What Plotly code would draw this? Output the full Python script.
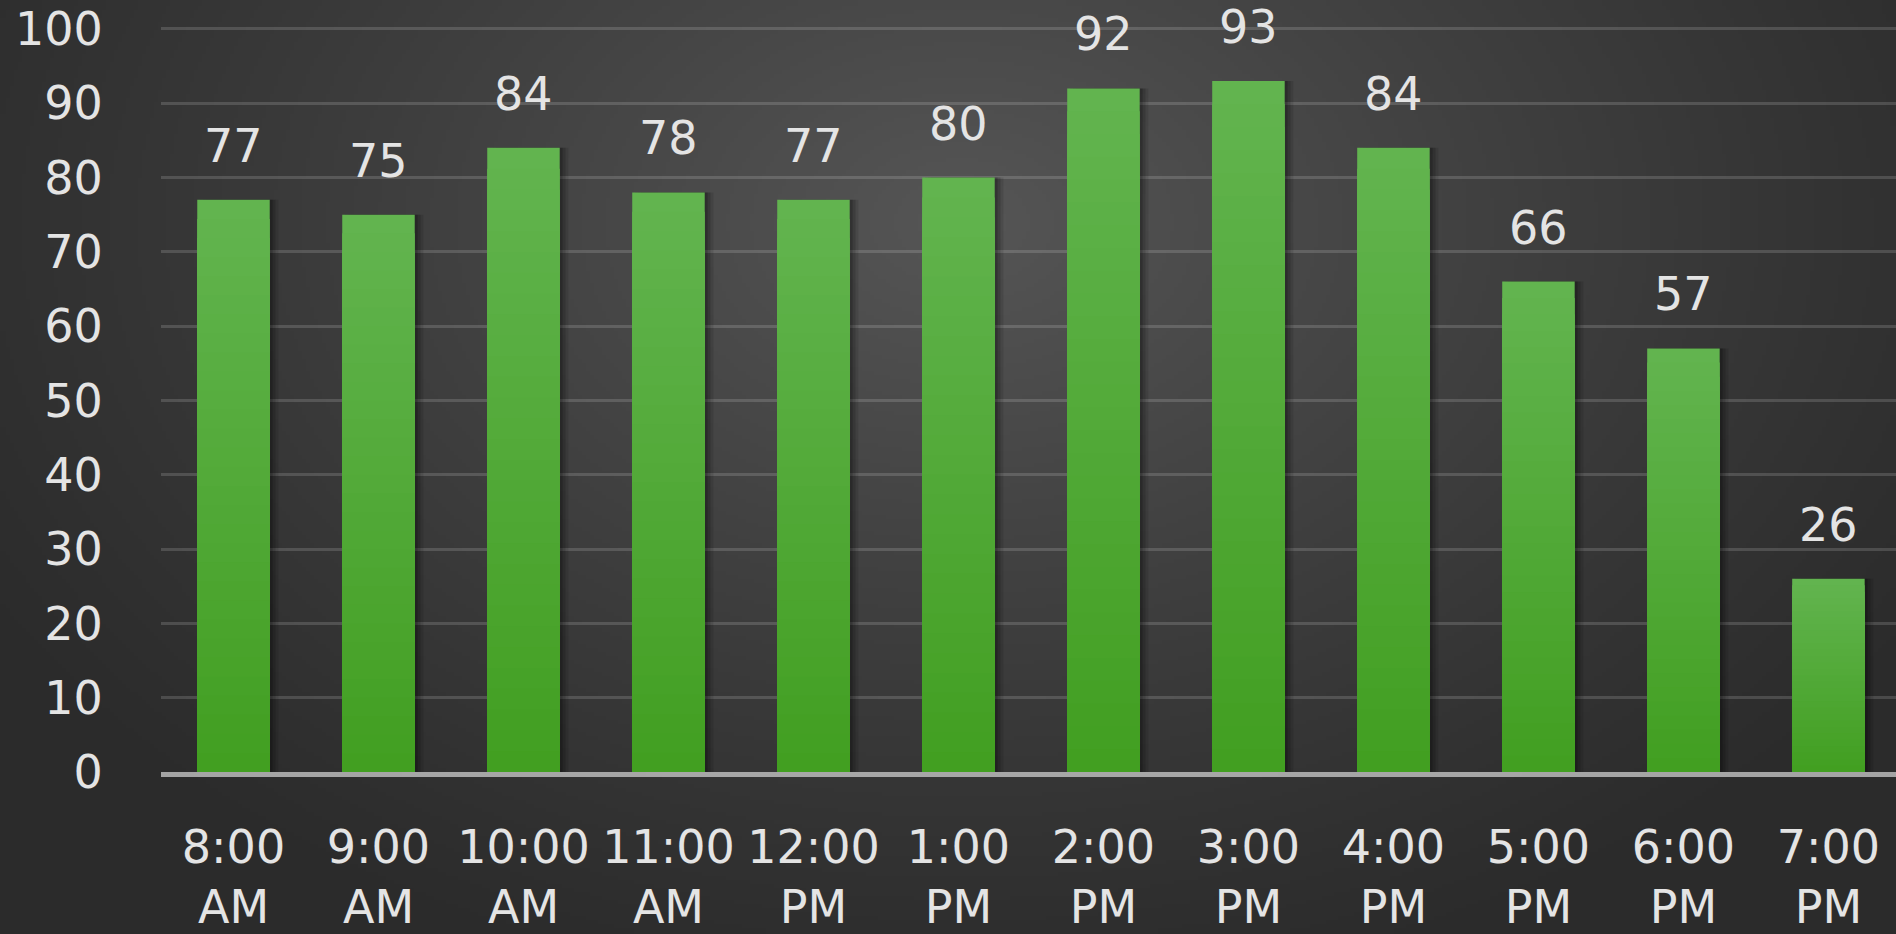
import numpy as np
import zlib, struct, base64
import plotly.graph_objects as go

# ---------------- data ----------------
times = ["8:00<br>AM", "9:00<br>AM", "10:00<br>AM", "11:00<br>AM", "12:00<br>PM", "1:00<br>PM",
         "2:00<br>PM", "3:00<br>PM", "4:00<br>PM", "5:00<br>PM", "6:00<br>PM", "7:00<br>PM"]
values = [77, 75, 84, 78, 77, 80, 92, 93, 84, 66, 57, 26]
y_ticks = [0, 10, 20, 30, 40, 50, 60, 70, 80, 90, 100]

# ---------------- layout constants ----------------
W, H = 1896, 934
ML, MR, MT, MB = 161, 0, 0, 162
PW, PH = W - ML - MR, H - MT - MB
FONT = "DejaVu Sans"
FS = 46
TXT = "#e4e4e4"


def make_png(rgb):
    h, w, _ = rgb.shape
    raw = b"".join(b"\x00" + rgb[i].tobytes() for i in range(h))

    def chunk(t, d):
        c = struct.pack(">I", len(d)) + t + d
        return c + struct.pack(">I", zlib.crc32(t + d) & 0xffffffff)

    png = (b"\x89PNG\r\n\x1a\n"
           + chunk(b"IHDR", struct.pack(">IIBBBBB", w, h, 8, 2, 0, 0, 0))
           + chunk(b"IDAT", zlib.compress(raw, 9))
           + chunk(b"IEND", b""))
    return "data:image/png;base64," + base64.b64encode(png).decode()


# radial background gradient
gw, gh = W // 4, H // 4
yy, xx = np.mgrid[0:gh, 0:gw]
dx = (xx * 4 - 960) / 1150.0
dy = (yy * 4 - 220) / 800.0
d = np.sqrt(dx ** 2 + dy ** 2)
f = np.clip(1 - d, 0, 1) ** 1.15
lo, hi = 43, 86
g = (lo + (hi - lo) * f).astype(np.uint8)
bg = np.stack([g, g, g], axis=-1)
bg_uri = make_png(bg)

fig = go.Figure()

# soft shadow to the right of bars
for off, a in [(0.06, 0.10), (0.04, 0.14), (0.02, 0.18)]:
    fig.add_trace(go.Bar(x=times, y=values, width=0.5, offset=-0.25 + off,
                         marker=dict(color=f"rgba(0,0,0,{a})", line=dict(width=0)),
                         hoverinfo="skip", showlegend=False))

# bars with a stepped vertical gradient (lighter at the top)
bottom_c = np.array([66, 159, 33])
top_c = np.array([99, 181, 80])
N = 30
for k in range(N, 0, -1):
    frac = k / N
    c = bottom_c + (top_c - bottom_c) * (k - 0.5) / N
    fig.add_trace(go.Bar(x=times, y=[v * frac for v in values], width=0.5,
                         marker=dict(color=f"rgb({int(c[0])},{int(c[1])},{int(c[2])})",
                                     line=dict(width=0)),
                         hoverinfo="skip", showlegend=False))

# value labels
for t, v in zip(times, values):
    fig.add_annotation(x=t, y=v, text=str(v), showarrow=False, yshift=54,
                       yanchor="middle", xanchor="center",
                       font=dict(family=FONT, size=FS, color=TXT))

fig.update_layout(
    width=W, height=H, autosize=False,
    margin=dict(l=ML, r=MR, t=MT, b=MB, pad=0),
    paper_bgcolor="#2d2d2d", plot_bgcolor="rgba(0,0,0,0)",
    barmode="overlay", showlegend=False,
    font=dict(family=FONT, size=FS, color=TXT),
    images=[dict(source=bg_uri, xref="paper", yref="paper",
                 x=-ML / PW, y=1 + MT / PH, sizex=W / PW, sizey=H / PH,
                 xanchor="left", yanchor="top", sizing="stretch", layer="below")],
    xaxis=dict(type="category", range=[-0.5, 11.466], showgrid=False, zeroline=False,
               showline=True, linecolor="rgba(205,205,205,0.75)", linewidth=5,
               ticks="outside", ticklen=31, tickcolor="rgba(0,0,0,0)",
               tickfont=dict(family=FONT, size=FS, color=TXT)),
    yaxis=dict(range=[0, 103.9], tickvals=y_ticks, showgrid=True,
               gridcolor="rgba(255,255,255,0.15)", gridwidth=3, zeroline=False,
               showline=False, ticks="outside", ticklen=48, tickcolor="rgba(0,0,0,0)",
               ticklabeloverflow="allow",
               tickfont=dict(family=FONT, size=FS, color=TXT)),
)

fig.write_html("out.html")
